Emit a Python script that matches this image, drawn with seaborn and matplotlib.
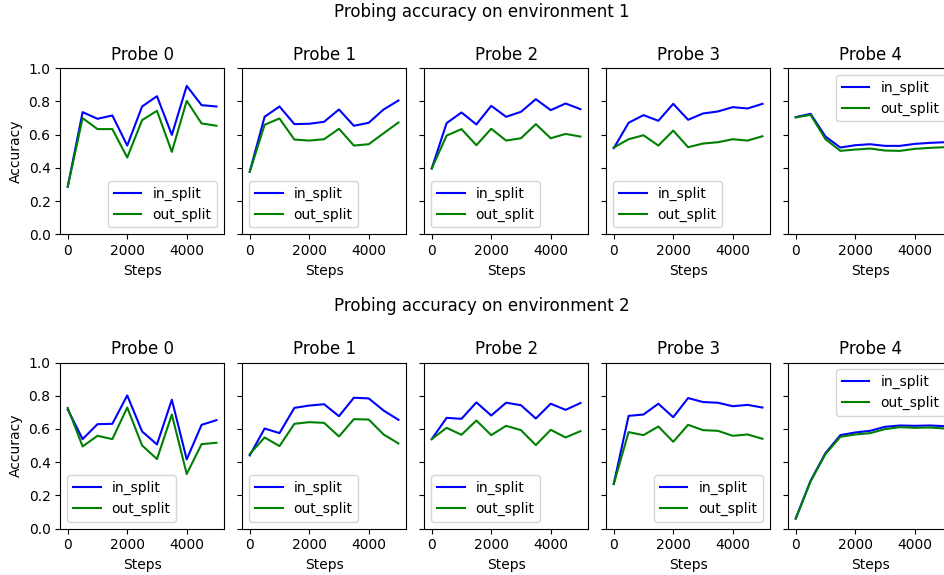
import matplotlib
matplotlib.use("Agg")
import matplotlib.pyplot as plt
import seaborn as sns
import pandas as pd

steps = [0, 500, 1000, 1500, 2000, 2500, 3000, 3500, 4000, 4500, 5000]
probe_names = ["Probe 0", "Probe 1", "Probe 2", "Probe 3", "Probe 4"]

# Environment 1: accuracy per probe
env1_in = [
    [0.287, 0.735, 0.695, 0.715, 0.534, 0.769, 0.831, 0.598, 0.893, 0.777, 0.769],
    [0.376, 0.707, 0.769, 0.663, 0.665, 0.677, 0.751, 0.653, 0.671, 0.751, 0.805],
    [0.396, 0.669, 0.733, 0.661, 0.773, 0.707, 0.737, 0.813, 0.747, 0.787, 0.753],
    [0.518, 0.671, 0.717, 0.683, 0.785, 0.689, 0.727, 0.739, 0.765, 0.757, 0.785],
    [0.705, 0.725, 0.588, 0.522, 0.536, 0.542, 0.532, 0.532, 0.544, 0.550, 0.554],
]
env1_out = [
    [0.287, 0.699, 0.633, 0.633, 0.462, 0.687, 0.743, 0.496, 0.803, 0.667, 0.653],
    [0.376, 0.659, 0.697, 0.570, 0.564, 0.572, 0.635, 0.534, 0.542, 0.608, 0.673],
    [0.396, 0.594, 0.633, 0.536, 0.635, 0.564, 0.578, 0.663, 0.578, 0.604, 0.588],
    [0.522, 0.572, 0.596, 0.534, 0.624, 0.524, 0.546, 0.554, 0.572, 0.564, 0.590],
    [0.703, 0.719, 0.572, 0.502, 0.510, 0.516, 0.504, 0.502, 0.514, 0.520, 0.524],
]

# Environment 2: accuracy per probe
env2_in = [
    [0.717, 0.539, 0.629, 0.631, 0.802, 0.585, 0.507, 0.776, 0.417, 0.625, 0.653],
    [0.441, 0.603, 0.575, 0.727, 0.741, 0.749, 0.677, 0.788, 0.784, 0.711, 0.655],
    [0.539, 0.667, 0.661, 0.760, 0.681, 0.758, 0.743, 0.663, 0.752, 0.715, 0.756],
    [0.269, 0.679, 0.687, 0.752, 0.671, 0.786, 0.762, 0.758, 0.737, 0.745, 0.729],
    [0.062, 0.289, 0.455, 0.563, 0.579, 0.589, 0.613, 0.621, 0.619, 0.621, 0.617],
]
env2_out = [
    [0.727, 0.495, 0.559, 0.539, 0.729, 0.501, 0.419, 0.687, 0.329, 0.509, 0.517],
    [0.449, 0.549, 0.497, 0.631, 0.641, 0.637, 0.555, 0.659, 0.657, 0.567, 0.513],
    [0.539, 0.607, 0.565, 0.651, 0.563, 0.619, 0.593, 0.503, 0.595, 0.549, 0.587],
    [0.269, 0.581, 0.563, 0.615, 0.523, 0.625, 0.593, 0.589, 0.559, 0.567, 0.541],
    [0.060, 0.285, 0.449, 0.553, 0.567, 0.575, 0.599, 0.611, 0.607, 0.609, 0.603],
]

env_titles = ["Probing accuracy on environment 1", "Probing accuracy on environment 2"]
legend_locs = [
    ["lower right", "lower left", "lower left", "lower left", "upper right"],
    ["lower left", "lower left", "lower left", "lower right", "upper right"],
]

W, H = 945, 575
fig = plt.figure(figsize=(W / 100, H / 100), dpi=100)

ax_left0 = 60.3 / W
ax_w = 163.6 / W
ax_step = 182.0 / W
row_bottoms = [(H - 234.3) / H, (H - 528.7) / H]
ax_h = 166.2 / H
title_y = [1 - 12 / H, 1 - 306 / H]

for r, (ins, outs) in enumerate([(env1_in, env1_out), (env2_in, env2_out)]):
    fig.text(481.5 / W, title_y[r], env_titles[r], ha="center", va="center", fontsize=12)
    first = None
    for p in range(5):
        ax = fig.add_axes([ax_left0 + p * ax_step, row_bottoms[r], ax_w, ax_h],
                          sharey=first)
        if first is None:
            first = ax
        df = pd.DataFrame({"Steps": steps, "in_split": ins[p], "out_split": outs[p]})
        sns.lineplot(data=df, x="Steps", y="in_split", color="blue", label="in_split", ax=ax)
        sns.lineplot(data=df, x="Steps", y="out_split", color="green", label="out_split", ax=ax)
        ax.set_ylim(0.0, 1.0)
        ax.set_xticks([0, 2000, 4000])
        ax.set_title(probe_names[p], fontsize=12)
        ax.set_xlabel("Steps")
        if p == 0:
            ax.set_ylabel("Accuracy")
        else:
            ax.set_ylabel("")
            ax.tick_params(labelleft=False)
        ax.legend(loc=legend_locs[r][p])

fig.savefig("out.png", dpi=100)
